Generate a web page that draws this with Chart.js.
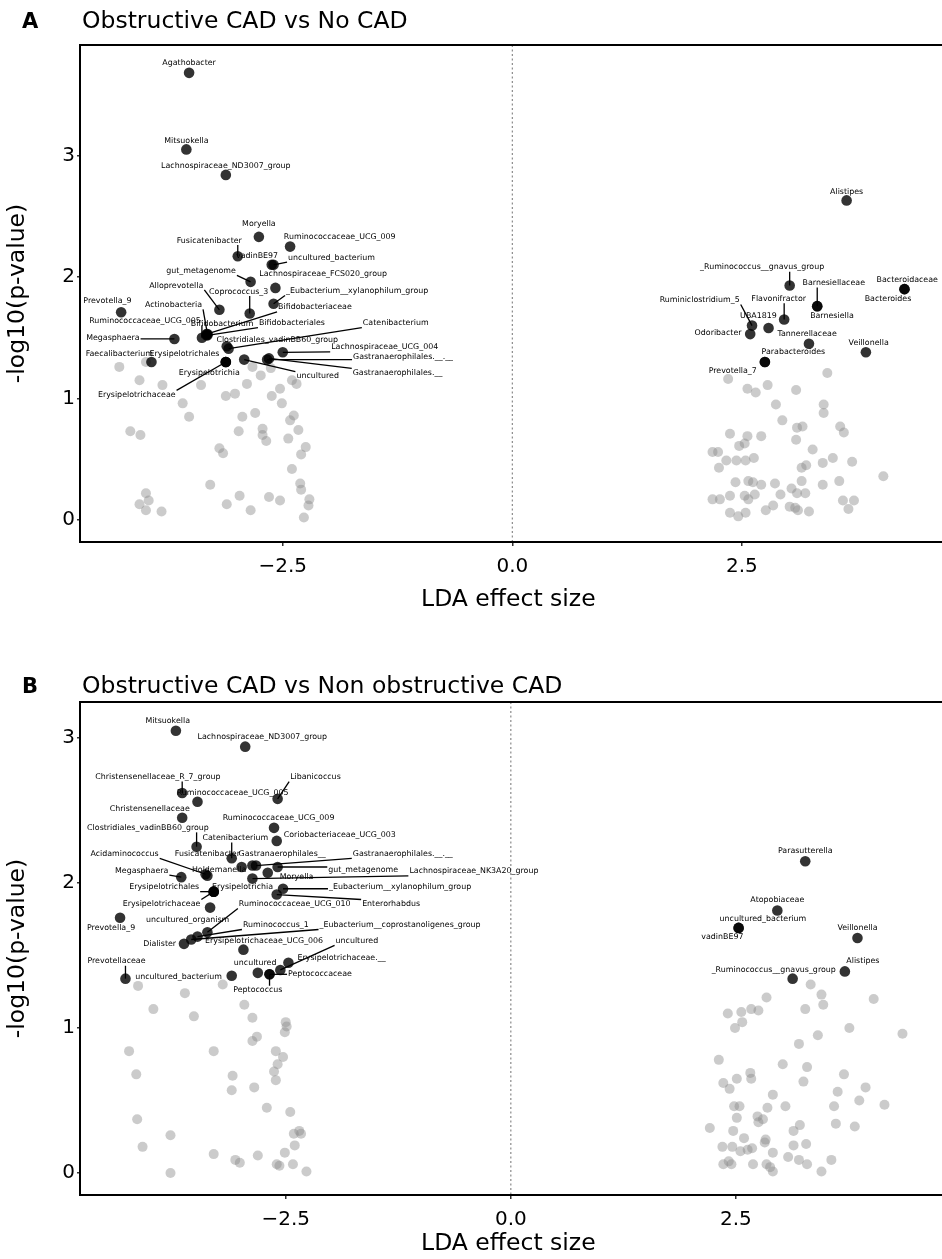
<!DOCTYPE html>
<html>
<head>
<meta charset="utf-8">
<title>LEfSe volcano plots</title>
<script src="https://cdn.jsdelivr.net/npm/chart.js@4.4.0/dist/chart.umd.min.js"></script>
<style>
  html, body { margin: 0; padding: 0; background: #fff; }
  #wrap { width: 942px; }
  canvas { display: block; }
</style>
</head>
<body>
<div id="wrap">
  <canvas id="chartA" width="942" height="620"></canvas>
  <canvas id="chartB" width="942" height="639"></canvas>
</div>
<script>
// ---- axis ticks ----
const xTicks = [-2.5, 0, 2.5];
const xTickLabels = ['\u22122.5', '0.0', '2.5'];
const yTicks = [0, 1, 2, 3];
const yTickLabels = ['0', '1', '2', '3'];

// ---- Panel A: Obstructive CAD vs No CAD (significant, labelled taxa) ----
const taxaA = ['Agathobacter','Mitsuokella','Lachnospiraceae_ND3007_group','Moryella','Ruminococcaceae_UCG_009',
  'Fusicatenibacter','vadinBE97','uncultured_bacterium','gut_metagenome','Lachnospiraceae_FCS020_group',
  '_Eubacterium__xylanophilum_group','Bifidobacteriaceae','Alloprevotella','Actinobacteria','Coprococcus_3',
  'Prevotella_9','Ruminococcaceae_UCG_005','Bifidobacterium','Bifidobacteriales','Catenibacterium',
  'Megasphaera','Clostridiales_vadinBB60_group','Lachnospiraceae_UCG_004','Gastranaerophilales.__.__','Gastranaerophilales.__',
  'uncultured','Faecalibacterium','Erysipelotrichales','Erysipelotrichia','Erysipelotrichaceae',
  'Alistipes','_Ruminococcus__gnavus_group','Barnesiellaceae','Barnesiella','Bacteroidaceae',
  'Bacteroides','Ruminiclostridium_5','Flavonifractor','UBA1819','Odoribacter',
  'Tannerellaceae','Veillonella','Parabacteroides','Prevotella_7'];
const ldaA = [-3.52,-3.55,-3.12,-2.76,-2.42, -2.99,-2.62,-2.60,-2.85,-2.58,
  -2.60,-3.33,-3.19,-3.32,-2.86, -4.26,-3.38,-3.33,-3.32,-3.09,
  -3.68,-3.11,-2.50,-2.67,-2.65, -2.92,-3.93,-3.12,-3.12,-3.12,
  3.64,3.02,3.32,3.32,4.27, 4.27,2.61,2.96,2.79,2.59, 3.23,3.85,2.75,2.75];
const logpA = [3.68,3.05,2.84,2.33,2.25, 2.17,2.10,2.10,1.96,1.91,
  1.78,1.53,1.73,1.53,1.70, 1.71,1.50,1.52,1.52,1.41,
  1.49,1.43,1.38,1.32,1.33, 1.32,1.30,1.30,1.30,1.30,
  2.63,1.93,1.76,1.76,1.90, 1.90,1.60,1.65,1.58,1.53, 1.45,1.38,1.30,1.30];
// where each name tag sits (repelled label position)
const tagXA = [-3.52,-3.55,-3.12,-2.76,-1.88, -3.30,-2.78,-1.97,-3.39,-2.06,
  -1.69,-2.15,-3.66,-3.69,-2.98, -4.41,-4.00,-3.16,-2.40,-1.27,
  -4.35,-2.56,-1.39,-1.19,-1.25, -2.12,-4.28,-3.57,-3.30,-4.09,
  3.64,2.72,3.50,3.48,4.30, 4.09,2.04,2.90,2.68,2.24, 3.21,3.88,3.06,2.40];
const tagYA = [3.76,3.12,2.91,2.44,2.33, 2.30,2.175,2.16,2.05,2.025,
  1.885,1.75,1.93,1.77,1.88, 1.80,1.64,1.61,1.62,1.62,
  1.50,1.48,1.42,1.34,1.21, 1.185,1.37,1.37,1.21,1.03,
  2.70,2.08,1.95,1.68,1.975, 1.82,1.81,1.82,1.68,1.54, 1.53,1.46,1.38,1.23];
// non-significant taxa
const greyLdaA = [-4.28,-3.99,-4.06,-3.81,-3.39,-3.59,-3.12,-3.02,-2.89,-2.74,
  -2.83,-2.63,-2.53,-2.62,-2.51,-2.40,-2.35,-2.80,-2.94,-3.52,
  -2.38,-2.42,-4.16,-4.05,-2.98,-2.72,-2.72,-2.68,-2.44,-2.33,
  -3.19,-3.15,-2.25,-2.30,-2.40,-3.29,-2.31,-2.30,-3.99,-3.96,
  -4.06,-3.99,-3.82,-3.11,-2.97,-2.85,-2.65,-2.53,-2.21,-2.22,-2.27,
  2.35,3.43,2.56,2.65,2.78,3.09,2.87,3.39,3.39,2.94,
  3.10,3.16,3.57,3.61,3.09,2.37,2.56,2.71,2.47,2.53,
  3.27,2.18,2.24,2.33,2.44,2.54,2.63,2.25,3.38,3.49,
  3.70,3.15,3.20,4.04,2.43,2.57,2.62,2.71,2.86,3.15,
  3.38,3.56,2.18,2.26,2.37,2.53,2.57,2.64,2.92,3.04,
  3.10,3.19,2.37,2.46,2.54,2.76,2.84,3.02,3.08,3.11,
  3.23,3.60,3.72,3.66];
const greyLogpA = [1.26,1.30,1.15,1.11,1.11,0.96,1.02,1.04,1.12,1.19,
  1.26,1.25,1.08,1.02,0.96,1.15,1.12,0.88,0.85,0.85,
  0.86,0.82,0.73,0.70,0.73,0.75,0.70,0.65,0.67,0.74,
  0.59,0.55,0.60,0.54,0.42,0.29,0.30,0.25,0.22,0.16,
  0.13,0.08,0.07,0.13,0.20,0.08,0.19,0.16,0.17,0.12,0.02,
  1.16,1.21,1.08,1.05,1.11,1.07,0.95,0.95,0.88,0.82,
  0.76,0.77,0.77,0.72,0.66,0.71,0.69,0.69,0.61,0.63,
  0.58,0.56,0.56,0.49,0.49,0.49,0.51,0.43,0.47,0.51,
  0.48,0.43,0.45,0.36,0.31,0.32,0.31,0.29,0.30,0.32,
  0.29,0.32,0.17,0.17,0.20,0.20,0.17,0.21,0.21,0.26,
  0.22,0.22,0.06,0.03,0.06,0.08,0.12,0.11,0.10,0.08,
  0.07,0.16,0.16,0.09];

// ---- Panel B: Obstructive CAD vs Non obstructive CAD ----
const taxaB = ['Mitsuokella','Lachnospiraceae_ND3007_group','Christensenellaceae_R_7_group','Ruminococcaceae_UCG_005','Libanicoccus',
  'Christensenellaceae','Ruminococcaceae_UCG_009','Clostridiales_vadinBB60_group','Catenibacterium','Coriobacteriaceae_UCG_003',
  'Fusicatenibacter','Acidaminococcus','Holdemanella','Megasphaera','Gastranaerophilales__',
  'Gastranaerophilales.__.__','gut_metagenome','Lachnospiraceae_NK3A20_group','Moryella','Erysipelotrichales',
  'Erysipelotrichia','Erysipelotrichaceae','_Eubacterium__xylanophilum_group','Enterorhabdus','Ruminococcaceae_UCG_010',
  'uncultured_organism','Prevotella_9','Ruminococcus_1','_Eubacterium__coprostanoligenes_group','Dialister',
  'Erysipelotrichaceae_UCG_006','uncultured','uncultured','Erysipelotrichaceae.__','Peptococcaceae',
  'Peptococcus','Prevotellaceae','uncultured_bacterium',
  'Parasutterella','Atopobiaceae','uncultured_bacterium','vadinBE97','Veillonella','Alistipes','_Ruminococcus__gnavus_group'];
const ldaB = [-3.72,-2.95,-3.65,-3.48,-2.59, -3.65,-2.63,-3.49,-3.10,-2.60,
  -2.99,-3.39,-3.37,-3.66,-2.87, -2.83,-2.59,-2.87,-2.70,-3.30,
  -3.30,-3.30,-2.53,-2.60,-3.37, -3.34,-4.34,-3.48,-3.55,-3.63,
  -2.97,-2.56,-2.81,-2.47,-2.68, -2.68,-4.28,-3.10,
  3.27,2.96,2.53,2.53,3.85,3.71,3.13];
const logpB = [3.05,2.94,2.62,2.56,2.58, 2.45,2.38,2.25,2.17,2.29,
  2.11,2.06,2.05,2.04,2.12, 2.12,2.11,2.03,2.07,1.94,
  1.94,1.94,1.96,1.92,1.66, 1.83,1.76,1.63,1.61,1.58,
  1.54,1.40,1.38,1.45,1.37, 1.37,1.34,1.36,
  2.15,1.81,1.69,1.69,1.62,1.39,1.34];
const tagXB = [-3.81,-2.76,-3.92,-3.09,-2.17, -4.01,-2.58,-4.03,-3.06,-1.90,
  -3.37,-4.29,-3.24,-4.10,-2.54, -1.20,-1.64,-0.41,-2.38,-3.85,
  -2.98,-3.88,-1.23,-1.33,-2.40, -3.59,-4.44,-2.61,-1.23,-3.90,
  -2.74,-1.71,-2.84,-1.88,-2.12, -2.81,-4.38,-3.69,
  3.27,2.96,2.80,2.35,3.85,3.91,2.92];
const tagYB = [3.12,3.005,2.73,2.62,2.73, 2.51,2.45,2.38,2.31,2.33,
  2.20,2.20,2.09,2.085,2.20, 2.20,2.09,2.08,2.04,1.97,
  1.97,1.855,1.97,1.855,1.855, 1.745,1.69,1.71,1.71,1.58,
  1.60,1.60,1.45,1.485,1.37, 1.26,1.46,1.35,
  2.22,1.88,1.75,1.63,1.69,1.46,1.40];
const greyLdaB = [-4.14,-3.62,-3.20,-3.97,-3.52,-2.96,-2.87,-2.50,-2.49,-2.51,
  -2.82,-2.87,-4.24,-3.30,-2.61,-2.53,-2.59,-2.63,-2.61,-4.16,
  -3.09,-3.10,-2.85,-2.71,-2.45,-4.15,-3.78,-2.35,-2.41,-2.33,
  -2.40,-4.09,-3.30,-3.06,-3.01,-2.81,-2.51,-2.60,-2.57,-2.42,-3.78,-2.27,
  3.33,3.45,2.84,4.03,3.47,3.27,2.41,2.56,2.67,2.75,
  2.57,2.49,3.76,4.35,3.41,3.20,2.31,3.02,3.29,2.66,
  2.67,2.36,2.51,2.43,3.25,3.70,3.94,3.63,2.91,3.87,
  2.48,2.54,2.85,3.05,3.59,4.15,2.51,2.74,2.80,2.75,
  2.21,2.47,3.14,3.21,3.61,3.82,2.59,2.83,2.82,2.35,
  2.46,2.55,2.63,2.68,2.91,3.14,3.28,2.36,2.42,2.45,
  2.69,2.84,2.88,2.91,3.08,3.20,3.29,3.56,3.45];
const greyLogpB = [1.29,1.24,1.30,1.13,1.08,1.16,1.07,1.04,1.01,0.97,
  0.94,0.91,0.84,0.84,0.84,0.80,0.75,0.70,0.64,0.68,
  0.67,0.57,0.59,0.45,0.42,0.37,0.26,0.29,0.27,0.27,
  0.19,0.18,0.13,0.09,0.07,0.12,0.14,0.06,0.05,0.06,0.00,0.01,
  1.30,1.23,1.21,1.20,1.16,1.13,1.10,1.11,1.13,1.12,
  1.04,1.00,1.00,0.96,0.95,0.89,0.78,0.75,0.73,0.69,
  0.65,0.62,0.65,0.58,0.63,0.68,0.59,0.56,0.54,0.50,
  0.46,0.46,0.45,0.46,0.46,0.47,0.38,0.39,0.37,0.35,
  0.31,0.29,0.29,0.33,0.34,0.32,0.24,0.23,0.21,0.18,
  0.18,0.15,0.16,0.17,0.14,0.19,0.20,0.06,0.08,0.06,
  0.06,0.06,0.04,0.01,0.11,0.09,0.06,0.09,0.01];

const FONT = 'DejaVu Sans';

// frame, dotted zero line, panel letter and title
const panelDecor = {
  id: 'panelDecor',
  beforeDatasetsDraw(chart) {
    const { ctx, chartArea: a, scales: { x } } = chart;
    const zx = x.getPixelForValue(0);
    ctx.save();
    ctx.strokeStyle = '#8a8a8a';
    ctx.lineWidth = 1.2;
    ctx.setLineDash([2, 2.5]);
    ctx.beginPath();
    ctx.moveTo(zx, a.top);
    ctx.lineTo(zx, a.bottom);
    ctx.stroke();
    ctx.restore();
  },
  afterDraw(chart, args, o) {
    const { ctx, chartArea: a } = chart;
    ctx.save();
    ctx.strokeStyle = '#000';
    ctx.lineWidth = 2;
    ctx.strokeRect(a.left, a.top, a.right - a.left + 10, a.bottom - a.top);
    ctx.fillStyle = '#000';
    ctx.textAlign = 'left';
    ctx.textBaseline = 'alphabetic';
    ctx.font = `bold 21px "${FONT}"`;
    ctx.fillText(o.letter, 22, o.baseline);
    ctx.font = `23.5px "${FONT}"`;
    ctx.fillText(o.title, 82, o.baseline);
    ctx.restore();
  }
};

// ggrepel-like name tags with leader segments
const nameTags = {
  id: 'nameTags',
  afterDatasetsDraw(chart, args, o) {
    const { ctx, scales: { x, y } } = chart;
    ctx.save();
    ctx.font = `7.9px "${FONT}"`;
    ctx.textAlign = 'center';
    ctx.textBaseline = 'middle';
    const items = o.names.map((name, i) => {
      const px = x.getPixelForValue(o.lda[i]);
      const py = y.getPixelForValue(o.logp[i]);
      const tx = x.getPixelForValue(o.tagX[i]);
      const ty = y.getPixelForValue(o.tagY[i]);
      const hw = ctx.measureText(name).width / 2 + 1;
      const hh = 4.5;
      const cx = Math.max(tx - hw, Math.min(px, tx + hw));
      const cy = Math.max(ty - hh, Math.min(py, ty + hh));
      return { name, px, py, tx, ty, cx, cy };
    });
    ctx.strokeStyle = '#000';
    ctx.lineWidth = 1.3;
    items.forEach(it => {
      if (Math.hypot(it.px - it.cx, it.py - it.cy) > 11) {
        ctx.beginPath();
        ctx.moveTo(it.cx, it.cy);
        ctx.lineTo(it.px, it.py);
        ctx.stroke();
      }
    });
    ctx.fillStyle = '#000';
    items.forEach(it => ctx.fillText(it.name, it.tx, it.ty));
    ctx.restore();
  }
};

function makePanel(id, p) {
  const sig = p.lda.map((v, i) => ({ x: v, y: p.logp[i] }));
  const rest = p.greyLda.map((v, i) => ({ x: v, y: p.greyLogp[i] }));
  return new Chart(document.getElementById(id), {
    type: 'scatter',
    data: {
      datasets: [
        { label: 'significant', data: sig, pointBackgroundColor: 'rgba(0,0,0,0.8)', pointBorderWidth: 0, pointRadius: 5.3, clip: false },
        { label: 'other', data: rest, pointBackgroundColor: 'rgba(140,140,140,0.45)', pointBorderWidth: 0, pointRadius: 5, clip: false }
      ]
    },
    options: {
      responsive: false,
      animation: false,
      devicePixelRatio: 1,
      events: [],
      layout: { padding: { top: p.padTop, left: 0, right: 0, bottom: 0 } },
      plugins: {
        legend: { display: false },
        tooltip: { enabled: false },
        panelDecor: { letter: p.letter, title: p.title, baseline: p.titleBaseline },
        nameTags: { names: p.names, lda: p.lda, logp: p.logp, tagX: p.tagX, tagY: p.tagY }
      },
      scales: {
        x: {
          type: 'linear',
          min: p.xMin, max: p.xMax,
          afterBuildTicks: s => { s.ticks = xTicks.map(v => ({ value: v })); },
          afterFit: s => { s.height = p.axisH; },
          grid: { drawOnChartArea: false, drawTicks: true, tickLength: 4, color: '#333', lineWidth: 1.5 },
          border: { display: false },
          ticks: {
            color: '#000', padding: 9, maxRotation: 0,
            font: { family: FONT, size: 20 },
            callback: (v, i) => xTickLabels[i]
          },
          title: {
            display: true, text: 'LDA effect size', color: '#000',
            font: { family: FONT, size: 23.5 }, padding: { top: 0, bottom: p.xTitlePad }
          }
        },
        y: {
          type: 'linear',
          min: p.yMin, max: p.yMax,
          afterBuildTicks: s => { s.ticks = yTicks.map(v => ({ value: v })); },
          afterFit: s => { s.width = 80; },
          grid: { drawOnChartArea: false, drawTicks: true, tickLength: 3, color: '#333', lineWidth: 1.5 },
          border: { display: false },
          ticks: {
            color: '#000', padding: 2,
            font: { family: FONT, size: 20 },
            callback: (v, i) => yTickLabels[i]
          },
          title: {
            display: true, text: '-log10(p-value)', color: '#000',
            font: { family: FONT, size: 23.5 }, padding: { top: 4, bottom: 0 }
          }
        }
      }
    },
    plugins: [panelDecor, nameTags]
  });
}

makePanel('chartA', {
  letter: 'A', title: 'Obstructive CAD vs No CAD', titleBaseline: 28,
  padTop: 45, axisH: 78, xTitlePad: 6,
  xMin: -4.708, xMax: 4.621, yMin: -0.181, yMax: 3.909,
  lda: ldaA, logp: logpA, names: taxaA, tagX: tagXA, tagY: tagYA,
  greyLda: greyLdaA, greyLogp: greyLogpA
});

makePanel('chartB', {
  letter: 'B', title: 'Obstructive CAD vs Non obstructive CAD', titleBaseline: 73,
  padTop: 82, axisH: 64, xTitlePad: 1,
  xMin: -4.785, xMax: 4.730, yMin: -0.152, yMax: 3.248,
  lda: ldaB, logp: logpB, names: taxaB, tagX: tagXB, tagY: tagYB,
  greyLda: greyLdaB, greyLogp: greyLogpB
});
</script>
</body>
</html>
